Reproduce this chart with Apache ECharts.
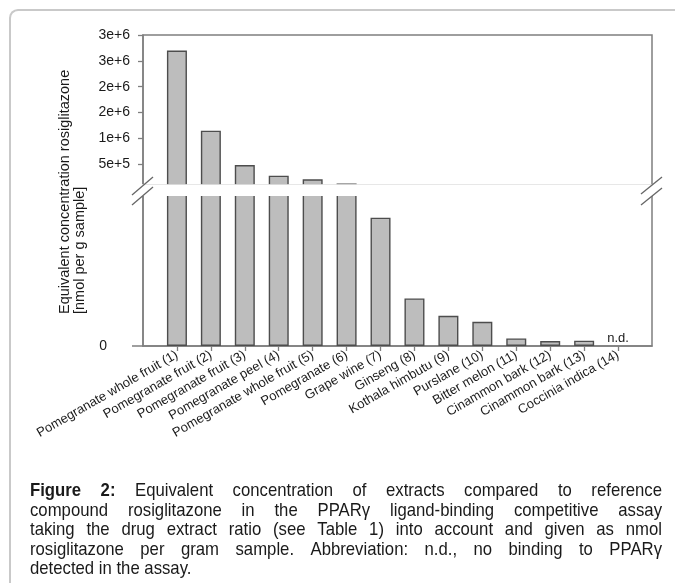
<!DOCTYPE html>
<html><head><meta charset="utf-8">
<script src="https://cdn.jsdelivr.net/npm/echarts@6/dist/echarts.min.js"></script>
<style>html,body{margin:0;padding:0;background:#fff}#c{width:675px;height:583px}</style>
</head><body><div id="c"></div>
<script>
// ---- data ----
const categories = ['Pomegranate whole fruit (1)','Pomegranate fruit (2)','Pomegranate fruit (3)','Pomegranate peel (4)','Pomegranate whole fruit (5)','Pomegranate (6)','Grape wine (7)','Ginseng (8)','Kothala himbutu (9)','Purslane (10)','Bitter melon (11)','Cinammon bark (12)','Cinammon bark (13)','Coccinia indica (14)'];
// nmol rosiglitazone per g sample (null = n.d.)
const values = [2700000,1150000,485000,280000,210000,129000,85000,31500,20000,16000,5000,3300,3500,null];
const upperTicks = [500000,1000000,1500000,2000000,2500000,3000000];
const upperTickLabels = ['5e+5','1e+6','2e+6','2e+6','3e+6','3e+6'];
const lowerTicks = [0];
const lowerTickLabels = ['0'];
const yTitleLines = ['Equivalent concentration rosiglitazone','[nmol per g sample]'];
const captionLines = [
  'Figure 2: Equivalent concentration of extracts compared to reference',
  'compound rosiglitazone in the PPARγ ligand-binding competitive assay',
  'taking the drug extract ratio (see Table 1) into account and given as nmol',
  'rosiglitazone per gram sample. Abbreviation: n.d., no binding to PPARγ',
  'detected in the assay.'
];
const captionBold = 'Figure 2:';

// ---- build ----
const chart = echarts.init(document.getElementById('c'), null, {renderer: 'canvas'});
const FONT = '"Liberation Sans", Arial, sans-serif';
const axisGray = '#7f7f7f';
const xData = [''].concat(categories, ['']);
const upperData = ['-'].concat(values.map(v => v == null ? '-' : v), ['-']);
const lowerData = ['-'].concat(values.map(v => v == null ? {value: 0, itemStyle: {borderWidth: 0}, label: {show: true, formatter: 'n.d.'}} : v), ['-']);

const barStyle = {color: '#bdbdbd', borderColor: '#4d4d4d', borderWidth: 1.4};

// caption (justified, condensed)
const capFont = '"Liberation Sans", Arial, sans-serif';
const capSize = 19, capScale = 0.88;
const capLeft = 30, capRight = 662, capTop = 491, capLH = 19.5;
const mctx = document.createElement('canvas').getContext('2d');
function measure(t, bold) { mctx.font = (bold ? 'bold ' : '') + capSize + 'px ' + capFont; return mctx.measureText(t).width * capScale; }
const boldWords = captionBold.split(' ');
const graphics = [];
captionLines.forEach((line, li) => {
  const words = line.split(' ');
  const isBold = words.map((w, i) => li === 0 && i < boldWords.length);
  const widths = words.map((w, i) => measure(w, isBold[i]));
  const total = widths.reduce((a, b) => a + b, 0);
  const last = li === captionLines.length - 1;
  const gap = last ? measure(' ', false) : (capRight - capLeft - total) / (words.length - 1);
  let x = capLeft;
  words.forEach((w, i) => {
    graphics.push({type: 'text', x: x, y: capTop + li * capLH, scaleX: capScale, z: 100,
      style: {text: w, font: (isBold[i] ? 'bold ' : '') + capSize + 'px ' + capFont, fill: '#1a1a1a', verticalAlign: 'middle'}});
    x += widths[i] + gap;
  });
});
// y-axis title
graphics.push({type: 'text', x: 58, y: 314, rotation: Math.PI / 2, z: 100,
  style: {text: yTitleLines.join('\n'), font: '14.5px ' + FONT, fill: '#1a1a1a', align: 'left', verticalAlign: 'top', lineHeight: 14.5}});
// axis break band
graphics.push({type: 'rect', z: 90, shape: {x: 136, y: 184.2, width: 524, height: 11.8}, style: {fill: '#fff'}});
// break marks
[[132,195,153,177],[132,205,153,187],[641,194,662,177],[641,205,662,188]].forEach(p => {
  graphics.push({type: 'line', z: 95, shape: {x1: p[0], y1: p[1], x2: p[2], y2: p[3]}, style: {stroke: '#666', lineWidth: 1.3}});
});
// outer frame
graphics.push({type: 'polyline', z: 100, shape: {points: [[10,590],[10,18],[10.6,14.9],[12.3,12.3],[14.9,10.6],[18,10],[680,10]]}, style: {fill: null, stroke: '#c9c9c9', lineWidth: 2}});

const option = {
  animation: false,
  textStyle: {fontFamily: FONT},
  grid: [
    {left: 143, right: 23, top: 35, height: 150, show: true, borderColor: axisGray, borderWidth: 1.5, containLabel: false},
    {left: 143, right: 23, top: 195, height: 151, show: true, borderColor: axisGray, borderWidth: 1.5, containLabel: false}
  ],
  xAxis: [
    {gridIndex: 0, type: 'category', data: xData, boundaryGap: false, show: false},
    {gridIndex: 1, type: 'category', data: xData, boundaryGap: false,
      axisLine: {lineStyle: {color: axisGray, width: 1.5}},
      axisTick: {length: 5, interval: (i) => i > 0 && i < xData.length - 1, lineStyle: {color: axisGray, width: 1.3}},
      axisLabel: {interval: 0, rotate: 30, fontSize: 13, color: '#1a1a1a', margin: 8, fontFamily: FONT}}
  ],
  yAxis: [
    {gridIndex: 0, type: 'value', min: 100000, max: 3000000, splitLine: {show: false},
      axisLine: {show: true, lineStyle: {color: axisGray, width: 1.5}},
      axisTick: {show: true, length: 5, customValues: upperTicks, lineStyle: {color: axisGray, width: 1.3}},
      axisLabel: {customValues: upperTicks, formatter: (v) => upperTickLabels[upperTicks.indexOf(v)] || '', fontSize: 14, color: '#1a1a1a', margin: 13, fontFamily: FONT}},
    {gridIndex: 1, type: 'value', min: 0, max: 100000, splitLine: {show: false},
      axisLine: {show: true, lineStyle: {color: axisGray, width: 1.5}},
      axisTick: {show: true, length: 11, customValues: lowerTicks, lineStyle: {color: axisGray, width: 1.5}},
      axisLabel: {customValues: lowerTicks, formatter: (v) => lowerTickLabels[lowerTicks.indexOf(v)] || '', fontSize: 14, color: '#1a1a1a', margin: 36, fontFamily: FONT}}
  ],
  series: [
    {type: 'bar', xAxisIndex: 0, yAxisIndex: 0, data: upperData, barWidth: 20, clip: true, itemStyle: barStyle, silent: true},
    {type: 'bar', xAxisIndex: 1, yAxisIndex: 1, data: lowerData, barWidth: 20, clip: true, itemStyle: barStyle, silent: true,
      label: {show: false, position: 'top', distance: 1, fontSize: 13, color: '#1a1a1a', fontFamily: FONT}}
  ],
  graphic: {elements: graphics}
};
chart.setOption(option);
</script></body></html>
